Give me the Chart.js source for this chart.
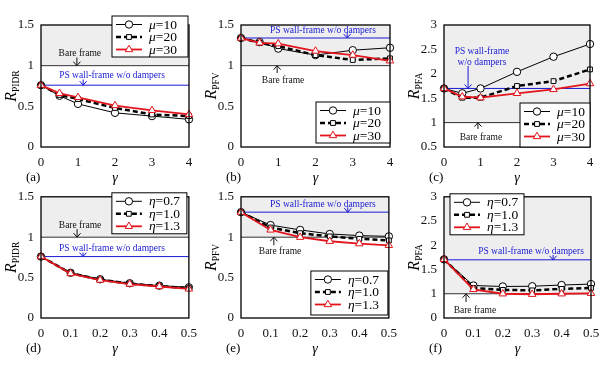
<!DOCTYPE html>
<html>
<head>
<meta charset="utf-8">
<script src="https://cdn.jsdelivr.net/npm/chart.js@4.4.0/dist/chart.umd.min.js"></script>
<style>
html, body { margin: 0; padding: 0; background: #fff; }
#page { position: relative; width: 612px; height: 365px; overflow: hidden; }
#page canvas { position: absolute; }
</style>
</head>
<body>
<div id="page">
    <canvas id="chart-a"></canvas>
    <canvas id="chart-b"></canvas>
    <canvas id="chart-c"></canvas>
    <canvas id="chart-d"></canvas>
    <canvas id="chart-e"></canvas>
    <canvas id="chart-f"></canvas>
</div>
<script>
// x values
var gammaMu = [0, 0.5, 1, 2, 3, 4];
var gammaEta = [0, 0.1, 0.2, 0.3, 0.4, 0.5];

// top row, varying mu
var pidrMu10 = [0.76, 0.63, 0.53, 0.42, 0.38, 0.34];
var pidrMu20 = [0.76, 0.64, 0.59, 0.48, 0.40, 0.38];
var pidrMu30 = [0.76, 0.66, 0.61, 0.51, 0.45, 0.40];
var pfvMu10 = [1.34, 1.29, 1.21, 1.13, 1.19, 1.22];
var pfvMu20 = [1.34, 1.28, 1.24, 1.13, 1.07, 1.09];
var pfvMu30 = [1.34, 1.28, 1.27, 1.18, 1.13, 1.06];
var pfaMu10 = [1.70, 1.60, 1.70, 2.04, 2.35, 2.61];
var pfaMu20 = [1.70, 1.51, 1.51, 1.75, 1.85, 2.09];
var pfaMu30 = [1.70, 1.53, 1.51, 1.60, 1.68, 1.80];

// bottom row, varying eta
var pidrEta07 = [0.76, 0.56, 0.48, 0.43, 0.40, 0.38];
var pidrEta10 = [0.76, 0.555, 0.475, 0.425, 0.395, 0.37];
var pidrEta13 = [0.76, 0.55, 0.47, 0.42, 0.39, 0.36];
var pfvEta07 = [1.31, 1.15, 1.09, 1.04, 1.02, 1.01];
var pfvEta10 = [1.31, 1.12, 1.05, 1.01, 0.98, 0.96];
var pfvEta13 = [1.31, 1.09, 1.00, 0.95, 0.92, 0.90];
var pfaEta07 = [1.71, 1.17, 1.15, 1.155, 1.18, 1.20];
var pfaEta10 = [1.71, 1.12, 1.08, 1.07, 1.10, 1.12];
var pfaEta13 = [1.71, 1.09, 1.00, 0.99, 1.00, 1.01];

// reference levels (bare frame = 1, PS wall-frame w/o dampers)
var bareFrame = 1;
var psPidr = 0.76;
var psPfvMu = 1.34;
var psPfaMu = 1.70;
var psPfvEta = 1.31;
var psPfaEta = 1.70;

var muLabels = ["10", "20", "30"];
var etaLabels = ["0.7", "1.0", "1.3"];

var SERIF = "'Liberation Serif', 'Times New Roman', serif";
var BLUE = "#1a1ad2";
var RED = "#e3141b";

var seriesStyles = [
    { color: "#000", width: 1, dash: [], point: "circle", radius: 3.7, order: 3 },
    { color: "#000", width: 2.5, dash: [5, 3], point: "rect", radius: 3.4, order: 2 },
    { color: RED, width: 1.8, dash: [], point: "triangle", radius: 4.3, order: 1 }
];

function fmt(v) {
    return String(Math.round(v * 10) / 10);
}

function makeDataset(values, idx, xs) {
    var st = seriesStyles[idx];
    return {
        data: xs.map(function (x, i) { return { x: x, y: values[i] }; }),
        borderColor: st.color,
        borderWidth: st.width,
        borderDash: st.dash,
        pointStyle: st.point,
        pointRadius: st.radius,
        pointBorderWidth: 1,
        pointBorderColor: st.color,
        pointBackgroundColor: "#fff",
        tension: 0,
        clip: false,
        order: st.order
    };
}

function arrow(ctx, x, y1, y2, color) {
    var dir = y2 > y1 ? 1 : -1;
    ctx.save();
    ctx.strokeStyle = color;
    ctx.lineWidth = 1;
    ctx.beginPath();
    ctx.moveTo(x, y1);
    ctx.lineTo(x, y2);
    ctx.moveTo(x - 3.5, y2 - dir * 4);
    ctx.lineTo(x, y2);
    ctx.lineTo(x + 3.5, y2 - dir * 4);
    ctx.stroke();
    ctx.restore();
}

function makePanelPlugin(p) {
    return {
        id: "panel",
        beforeDatasetsDraw: function (chart) {
            var ctx = chart.ctx, a = chart.chartArea;
            var ys = chart.scales.y;
            var yBare = ys.getPixelForValue(bareFrame);
            ctx.save();
            ctx.fillStyle = "#eeeeee";
            ctx.fillRect(a.left, a.top, a.right - a.left, yBare - a.top);
            ctx.lineWidth = 1;
            ctx.strokeStyle = "#333";
            ctx.beginPath();
            ctx.moveTo(a.left, yBare);
            ctx.lineTo(a.right, yBare);
            ctx.stroke();
            var yPs = ys.getPixelForValue(p.ps);
            ctx.strokeStyle = BLUE;
            ctx.beginPath();
            ctx.moveTo(a.left, yPs);
            ctx.lineTo(a.right, yPs);
            ctx.stroke();
            ctx.restore();
        },
        afterDraw: function (chart) {
            var ctx = chart.ctx, a = chart.chartArea;
            var xs = chart.scales.x, ys = chart.scales.y;
            ctx.save();

            // frame
            ctx.strokeStyle = "#000";
            ctx.lineWidth = 1.3;
            ctx.strokeRect(a.left, a.top, a.right - a.left, a.bottom - a.top);

            // annotations
            ctx.textAlign = "center";
            ctx.textBaseline = "middle";
            ctx.font = "9.5px " + SERIF;
            p.notes.forEach(function (n) {
                var col = n.blue ? BLUE : "#111";
                ctx.fillStyle = col;
                n.lines.forEach(function (t, i) {
                    ctx.fillText(t, xs.getPixelForValue(n.x), ys.getPixelForValue(n.y[i]));
                });
                arrow(ctx, xs.getPixelForValue(n.ax), ys.getPixelForValue(n.from), ys.getPixelForValue(n.to), col);
            });

            // legend
            var lg = p.legend;
            var lx = lg.side === "left" ? a.left + lg.dx : a.right - lg.dx - lg.w;
            var ly = lg.anchor === "top" ? a.top + lg.dy : a.bottom - lg.dy - lg.h;
            ctx.fillStyle = "#fff";
            ctx.fillRect(lx, ly, lg.w, lg.h);
            ctx.strokeStyle = "#000";
            ctx.lineWidth = 1;
            ctx.strokeRect(lx, ly, lg.w, lg.h);
            for (var i = 0; i < 3; i++) {
                var st = seriesStyles[i];
                var ry = ly + 8.5 + i * 12.5;
                ctx.save();
                ctx.strokeStyle = st.color;
                ctx.lineWidth = st.width;
                ctx.setLineDash(st.dash);
                ctx.beginPath();
                ctx.moveTo(lx + 4, ry);
                ctx.lineTo(lx + 30, ry);
                ctx.stroke();
                ctx.restore();
                ctx.fillStyle = "#fff";
                ctx.strokeStyle = st.color;
                ctx.lineWidth = 1;
                Chart.helpers.drawPoint(ctx, { pointStyle: st.point, radius: st.radius, borderWidth: 1, rotation: 0 }, lx + 17, ry);
                ctx.fillStyle = "#000";
                ctx.textAlign = "left";
                ctx.font = "italic 13.5px " + SERIF;
                ctx.fillText(p.sym, lx + 37, ry + 0.5);
                var w = ctx.measureText(p.sym).width;
                ctx.font = "13.5px " + SERIF;
                ctx.fillText("=" + p.names[i], lx + 37 + w, ry + 0.5);
            }

            // y title with subscript
            var cy = (a.top + a.bottom) / 2;
            ctx.save();
            ctx.translate(a.left - 25, cy);
            ctx.rotate(-Math.PI / 2);
            ctx.textAlign = "left";
            ctx.textBaseline = "alphabetic";
            ctx.font = "italic 16px " + SERIF;
            var wR = ctx.measureText("R").width;
            ctx.font = "9.5px " + SERIF;
            var wS = ctx.measureText(p.sub).width;
            var sx = -(wR + wS) / 2;
            ctx.fillStyle = "#000";
            ctx.font = "italic 16px " + SERIF;
            ctx.fillText("R", sx, 0);
            ctx.font = "9.5px " + SERIF;
            ctx.fillText(p.sub, sx + wR, 3);
            ctx.restore();

            // x title and panel letter
            ctx.fillStyle = "#000";
            ctx.textBaseline = "middle";
            ctx.textAlign = "center";
            ctx.font = "italic 14px " + SERIF;
            ctx.fillText("\u03b3", (a.left + a.right) / 2, a.bottom + 31);
            ctx.textAlign = "left";
            ctx.font = "13px " + SERIF;
            ctx.fillText("(" + p.letter + ")", a.left - 15, a.bottom + 31);

            ctx.restore();
        }
    };
}

function buildPanel(p) {
    var canvas = document.getElementById(p.id);
    canvas.width = p.box.w;
    canvas.height = p.box.h;
    canvas.style.left = p.box.x + "px";
    canvas.style.top = p.box.y + "px";

    var tickFont = { family: SERIF, size: 13 };

    new Chart(canvas, {
        type: "line",
        data: {
            datasets: p.series.map(function (s, i) { return makeDataset(s, i, p.xs); })
        },
        options: {
            responsive: false,
            animation: false,
            events: [],
            layout: {
                padding: { left: 0, right: p.box.w - p.area.r, top: p.area.t, bottom: 0 }
            },
            scales: {
                x: {
                    type: "linear",
                    min: p.xMin,
                    max: p.xMax,
                    afterFit: function (s) { s.height = p.box.h - p.area.b; },
                    grid: { display: false, drawTicks: false },
                    border: { display: false },
                    ticks: {
                        stepSize: p.xStep,
                        padding: 8,
                        maxRotation: 0,
                        autoSkip: false,
                        font: tickFont,
                        color: "#111",
                        callback: fmt
                    }
                },
                y: {
                    min: p.yMin,
                    max: p.yMax,
                    afterFit: function (s) { s.width = p.area.l; },
                    grid: { display: false, drawTicks: false },
                    border: { display: false },
                    ticks: {
                        stepSize: 0.5,
                        padding: 7,
                        font: tickFont,
                        color: "#111",
                        callback: p.yFmt || fmt
                    }
                }
            },
            plugins: {
                legend: { display: false },
                tooltip: { enabled: false }
            }
        },
        plugins: [makePanelPlugin(p)]
    });
}

var psText = ["PS wall-frame w/o dampers"];
var bareText = ["Bare frame"];

// top-row canvases are taller than the row and overlap the (transparent) lower ones
buildPanel({
    id: "chart-a", letter: "a", sub: "PIDR", sym: "\u03bc", names: muLabels,
    box: { x: 0, y: 0, w: 205, h: 190 }, area: { l: 41, r: 189, t: 25, b: 147 },
    xs: gammaMu, xMin: 0, xMax: 4, xStep: 1, yMin: 0, yMax: 1.5,
    series: [pidrMu10, pidrMu20, pidrMu30], ps: psPidr,
    legend: { side: "right", dx: 1, anchor: "top", dy: -9, w: 76, h: 41 },
    notes: [
        { lines: bareText, x: 1.05, y: [1.155], ax: 0.97, from: 1.10, to: 1.0 },
        { lines: psText, x: 1.92, y: [0.885], ax: 1.14, from: 0.83, to: 0.76, blue: true }
    ]
});

buildPanel({
    id: "chart-b", letter: "b", sub: "PFV", sym: "\u03bc", names: muLabels,
    box: { x: 205, y: 0, w: 200, h: 190 }, area: { l: 36, r: 185, t: 25, b: 147 },
    xs: gammaMu, xMin: 0, xMax: 4, xStep: 1, yMin: 0, yMax: 1.5,
    series: [pfvMu10, pfvMu20, pfvMu30], ps: psPfvMu,
    legend: { side: "right", dx: 0, anchor: "bottom", dy: 4, w: 74, h: 41 },
    notes: [
        { lines: psText, x: 2.2, y: [1.43], ax: 2.85, from: 1.40, to: 1.34, blue: true },
        { lines: bareText, x: 1.13, y: [0.82], ax: 0.97, from: 0.91, to: 1.0 }
    ]
});

buildPanel({
    id: "chart-c", letter: "c", sub: "PFA", sym: "\u03bc", names: muLabels,
    box: { x: 405, y: 0, w: 207, h: 190 }, area: { l: 39, r: 185, t: 25, b: 147 },
    xs: gammaMu, xMin: 0, xMax: 4, xStep: 1, yMin: 0.5, yMax: 3,
    series: [pfaMu10, pfaMu20, pfaMu30], ps: psPfaMu,
    legend: { side: "right", dx: 0, anchor: "bottom", dy: 0, w: 70, h: 44 },
    notes: [
        { lines: ["PS wall-frame", "w/o dampers"], x: 1.04, y: [2.45, 2.24], ax: 0.66, from: 2.16, to: 1.70, blue: true },
        { lines: bareText, x: 1.01, y: [0.685], ax: 0.93, from: 0.87, to: 1.0 }
    ]
});

buildPanel({
    id: "chart-d", letter: "d", sub: "PIDR", sym: "\u03b7", names: etaLabels,
    box: { x: 0, y: 182, w: 205, h: 183 }, area: { l: 41, r: 189, t: 13, b: 136 },
    xs: gammaEta, xMin: 0, xMax: 0.5, xStep: 0.1, yMin: 0, yMax: 1.5,
    series: [pidrEta07, pidrEta10, pidrEta13], ps: psPidr,
    legend: { side: "right", dx: 2, anchor: "top", dy: -4, w: 75, h: 41 },
    notes: [
        { lines: bareText, x: 0.132, y: [1.146], ax: 0.122, from: 1.10, to: 1.0 },
        { lines: psText, x: 0.24, y: [0.855], ax: 0.142, from: 0.81, to: 0.76, blue: true }
    ]
});

buildPanel({
    id: "chart-e", letter: "e", sub: "PFV", sym: "\u03b7", names: etaLabels,
    box: { x: 205, y: 182, w: 200, h: 183 }, area: { l: 36, r: 184, t: 13, b: 136 },
    xs: gammaEta, xMin: 0, xMax: 0.5, xStep: 0.1, yMin: 0, yMax: 1.5,
    series: [pfvEta07, pfvEta10, pfvEta13], ps: psPfvEta,
    legend: { side: "right", dx: 1, anchor: "bottom", dy: 3, w: 77, h: 44 },
    notes: [
        { lines: psText, x: 0.277, y: [1.40], ax: 0.361, from: 1.37, to: 1.31, blue: true },
        { lines: bareText, x: 0.132, y: [0.817], ax: 0.111, from: 0.90, to: 1.0 }
    ]
});

buildPanel({
    id: "chart-f", letter: "f", sub: "PFA", sym: "\u03b7", names: etaLabels,
    box: { x: 405, y: 182, w: 207, h: 183 }, area: { l: 39, r: 186, t: 13, b: 136 },
    xs: gammaEta, xMin: 0, xMax: 0.5, xStep: 0.1, yMin: 0.5, yMax: 3,
    yFmt: function (v) { return v === 0.5 ? "0" : fmt(v); },
    series: [pfaEta07, pfaEta10, pfaEta13], ps: psPfaEta,
    legend: { side: "left", dx: 6, anchor: "top", dy: -3, w: 74, h: 41 },
    notes: [
        { lines: psText, x: 0.296, y: [1.88], ax: 0.371, from: 1.80, to: 1.70, blue: true },
        { lines: bareText, x: 0.105, y: [0.66], ax: 0.075, from: 0.83, to: 1.0 }
    ]
});
</script>
</body>
</html>
